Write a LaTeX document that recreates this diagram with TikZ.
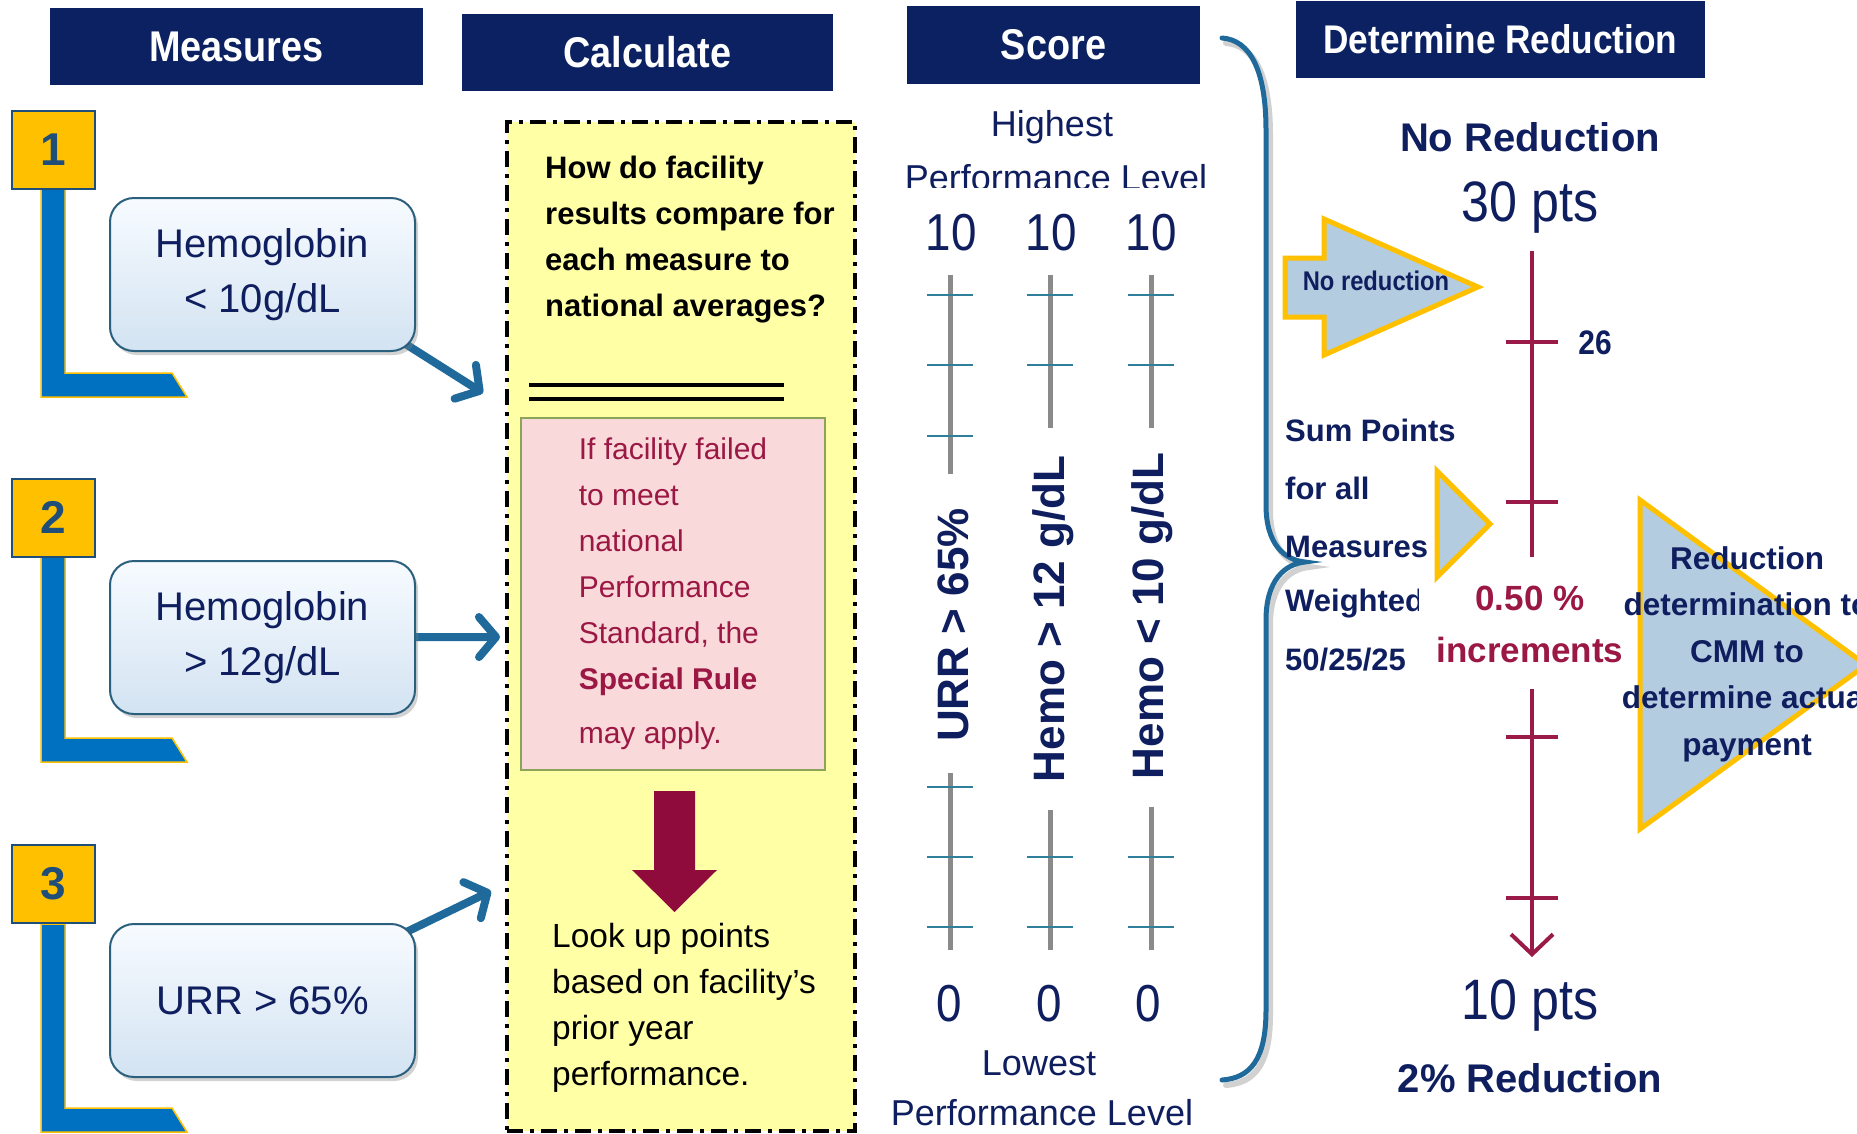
\documentclass[tikz,border=0pt]{standalone}
\usepackage{fontspec}
\setmainfont{Liberation Sans}
\newfontfamily\narrowfont[FakeStretch=0.88]{Liberation Sans}
\usepackage{tikz}
\usetikzlibrary{arrows.meta,shadows,backgrounds,calc}

\definecolor{navy}{HTML}{0B2161}
\definecolor{ink}{HTML}{0F1E5E}
\definecolor{gold}{HTML}{FFC000}
\definecolor{lblue}{HTML}{0070C0}
\definecolor{steel}{HTML}{1F4E79}
\definecolor{arrowblue}{HTML}{1F6A9A}
\definecolor{boxedge}{HTML}{2A5F7E}
\definecolor{boxtop}{HTML}{F7FBFF}
\definecolor{boxbot}{HTML}{D3E3F2}
\definecolor{padyellow}{HTML}{FFFFA6}
\definecolor{rosefill}{HTML}{F9D9DA}
\definecolor{olive}{HTML}{8CA35A}
\definecolor{wine}{HTML}{8E0B3C}
\definecolor{winetext}{HTML}{9B1744}
\definecolor{bargray}{HTML}{8A8A8A}
\definecolor{tickteal}{HTML}{2F7E9C}
\definecolor{paleblue}{HTML}{B3CCE0}
\definecolor{redrule}{HTML}{9B1B48}

\newcommand{\setfs}[2]{\fontsize{#1}{#2}\selectfont}

\tikzset{
  header/.style={fill=navy, text=white, inner sep=0pt, font=\narrowfont\bfseries\setfs{43}{50}},
  numbox/.style={fill=gold, draw=steel, line width=2pt, minimum width=83pt, minimum height=78pt,
    inner sep=0pt, text=steel, font=\bfseries\setfs{46}{50}},
  measure/.style={draw=boxedge, line width=2pt, rounded corners=24pt, top color=boxtop, bottom color=boxbot,
    minimum width=305pt, minimum height=153pt, inner sep=0pt, align=center, text=ink, font=\setfs{40}{55},
    drop shadow={shadow xshift=3pt, shadow yshift=-4pt, opacity=.35}},
  flow/.style={draw=arrowblue, line width=8pt, line cap=round, -{Straight Barb[length=17pt,width=40pt,round]}},
  calcbox/.style={fill=padyellow, draw=black, line width=3.5pt, dash pattern=on 16pt off 7pt on 4pt off 7pt},
  scalebar/.style={draw=bargray, line width=5pt},
  scaletick/.style={draw=tickteal, line width=2.5pt},
  scorenum/.style={text=ink, inner sep=0pt, font=\narrowfont\setfs{52}{56}},
  scorelbl/.style={text=ink, inner sep=0pt, font=\setfs{36}{40}},
  measlbl/.style={text=ink, inner sep=0pt, rotate=90, font=\bfseries\setfs{44}{48}},
  redline/.style={draw=redrule, line width=4pt},
  pointer/.style={fill=paleblue, draw=gold, line width=5pt, line join=miter},
}

\begin{document}
\begin{tikzpicture}[x=1pt, y=-1pt]
\useasboundingbox (0,0) rectangle (1857,1133);

% column headings
\node[header, minimum width=373pt, minimum height=77pt] (hmeas) at (236.5,46.5) {Measures};
\node[header, minimum width=371pt, minimum height=77pt] (hcalc) at (647.5,52.5) {Calculate};
\node[header, minimum width=293pt, minimum height=78pt] (hscore) at (1053.5,45) {Score};
\node[header, minimum width=409pt, minimum height=77pt, font=\narrowfont\bfseries\setfs{40}{48}] (hred) at (1500.5,39.5) {Determine Reduction};

% L-shaped markers under the numbers
\foreach \yt/\yb in {189/397, 557/762, 924/1132}
  \filldraw[fill=lblue, draw=gold, line width=1.5pt] (41,\yt) -- (65,\yt) -- (65,{\yb-24}) -- (172,{\yb-24}) -- (187,\yb) -- (41,\yb) -- cycle;

\node[numbox] (n1) at (53.5,150) {1};
\node[numbox] (n2) at (53.5,517.5) {2};
\node[numbox] (n3) at (53.5,884) {3};

% the three measures
\node[measure] (hbl) at (262.5,274.5) {Hemoglobin\\< 10g/dL};
\node[measure] (hbh) at (262.5,637.5) {Hemoglobin\\> 12g/dL};
\node[measure] (urr) at (262.5,1000.5) {URR > 65\%};

% calculation panel
\node[calcbox, minimum width=348pt, minimum height=1009pt] (calc) at (681,626.5) {};
\node[anchor=west, align=left, inner sep=0pt, font=\bfseries\setfs{31}{46}] (quest) at (545,240)
  {How do facility\\results compare for\\each measure to\\national averages?};
\draw[line width=4.5pt] (529,385) -- (784,385) (529,399) -- (784,399);
\node[fill=rosefill, draw=olive, line width=2pt, minimum width=304pt, minimum height=352pt, inner sep=0pt,
  align=left, text=winetext, font=\setfs{30}{46}] (rule) at (673,594)
  {If facility failed\\to meet\\national\\Performance\\Standard, the\\\textbf{Special Rule}\\[8pt]may apply.};
\fill[wine] (654,791) -- (695,791) -- (695,870) -- (717,870) -- (674.5,912) -- (632,870) -- (654,870) -- cycle;
\node[anchor=west, align=left, inner sep=0pt, font=\setfs{33.5}{46}] (lookup) at (552,1008)
  {Look up points\\based on facility's\\prior year\\performance.};

\coordinate (in1) at (483,393);
\coordinate (in2) at (500,637);
\coordinate (in3) at (491,891);
\begin{scope}[on background layer]
  \fill[white] (0,0) rectangle (1857,1133);
  \draw[flow] ($(hbl.south east)+(-20,-14)$) -- (in1);
  \draw[flow] (hbh.center) -- (in2);
  \draw[flow] ($(urr.north east)+(-20,14)$) -- (in3);
\end{scope}

% score scales
\node[scorelbl] (hi) at (1052,127) {Highest};
\begin{scope}
  \clip (880,150) rectangle (1230,187);
  \node[scorelbl, anchor=base] (hilvl) at (1056,190) {Performance Level};
\end{scope}
\foreach \i/\x in {1/951, 2/1051, 3/1151}
  \node[scorenum] (top\i) at (\x,233) {10};
\foreach \x/\ya/\yb/\tk in {950/275/474/{295,365,436}, 1050/275/428/{295,365}, 1151/275/428/{295,365}}{
  \draw[scalebar] (\x,\ya) -- (\x,\yb);
  \foreach \t in \tk \draw[scaletick] ({\x-23},\t) -- ({\x+23},\t);
}
\foreach \x/\ya/\tk in {950/773/{787,857,927}, 1050/810/{857,927}, 1151/807/{857,927}}{
  \draw[scalebar] (\x,\ya) -- (\x,950);
  \foreach \t in \tk \draw[scaletick] ({\x-23},\t) -- ({\x+23},\t);
}
\node[measlbl] (lurr) at (953,625) {URR > 65\%};
\node[measlbl] (lhi) at (1053,619) {Hemo > 12 g/dL};
\node[measlbl] (llo) at (1152,616) {Hemo < 10 g/dL};
\foreach \i/\x in {1/949, 2/1049, 3/1148}
  \node[scorenum] (low\i) at (\x,1004) {0};
\node[scorelbl] (lo) at (1039,1063) {Lowest};
\node[scorelbl] (lolvl) at (1042,1113) {Performance Level};

% brace
\begin{scope}[shift={(4,5)}]
  \draw[black!18, line width=6pt, line cap=round]
    (1222,38) .. controls (1250,40) and (1266,70) .. (1266,130) -- (1266,505)
    .. controls (1266,545) and (1285,560) .. (1305,562) .. controls (1285,564) and (1266,580) .. (1266,620)
    -- (1266,1010) .. controls (1266,1060) and (1250,1078) .. (1222,1080);
\end{scope}
\draw[arrowblue, line width=5pt, line cap=round]
  (1222,38) .. controls (1250,40) and (1266,70) .. (1266,130) -- (1266,505)
  .. controls (1266,545) and (1285,560) .. (1305,562) .. controls (1285,564) and (1266,580) .. (1266,620)
  -- (1266,1010) .. controls (1266,1060) and (1250,1078) .. (1222,1080);

% reduction scale
\node[text=ink, inner sep=0pt, font=\bfseries\setfs{40}{44}] (nored) at (1530,137) {No Reduction};
\node[text=ink, inner sep=0pt, font=\narrowfont\setfs{57}{60}] (pts30) at (1530,208) {30 pts};
\coordinate (r0) at (1532,251);
\coordinate (r1) at (1532,557);
\coordinate (r2) at (1532,689);
\coordinate (r3) at (1532,957);
\draw[redline] (r0) -- (r1);
\draw[redline, -{Straight Barb[length=20pt,width=42pt]}] (r2) -- (r3);
\foreach \t in {342,502,737,898}
  \draw[redline] (1506,\t) -- (1558,\t);
\node[text=ink, inner sep=0pt, font=\narrowfont\bfseries\setfs{34}{38}] (p26) at (1595,343) {26};
\node[text=winetext, inner sep=0pt, font=\bfseries\setfs{35}{40}] (pct) at (1530,598) {0.50 \%};
\node[text=winetext, inner sep=0pt, font=\bfseries\setfs{35}{40}] (incr) at (1530,650) {increments};
\node[text=ink, inner sep=0pt, font=\narrowfont\setfs{57}{60}] (pts10) at (1530,1005) {10 pts};
\node[text=ink, inner sep=0pt, font=\bfseries\setfs{40}{44}] (twored) at (1530,1078) {2\% Reduction};

% pointers
\filldraw[pointer] (1285,258) -- (1324,258) -- (1324,219) -- (1478,287) -- (1324,355) -- (1324,317) -- (1285,317) -- cycle;
\node[text=ink, inner sep=0pt, font=\narrowfont\bfseries\setfs{27}{30}] (noredlbl) at (1376,281) {No reduction};
\filldraw[pointer] (1437,471) -- (1490,524) -- (1437,577) -- cycle;
\filldraw[pointer] (1640,500) -- (1866,665) -- (1640,829) -- cycle;
\node[text=ink, inner sep=0pt, align=center, font=\bfseries\setfs{31.5}{46.5}] (detlbl) at (1747,654)
  {Reduction\\determination to\\CMM to\\determine actual\\payment};

\node[anchor=west, align=left, text=ink, inner sep=0pt, font=\bfseries\setfs{31}{58}] (sum) at (1285,488)
  {Sum Points\\for all\\Measures};
\begin{scope}
  \clip (1280,570) rectangle (1418,640);
  \node[anchor=west, text=ink, inner sep=0pt, font=\bfseries\setfs{31}{36}] (wtd) at (1285,604) {Weighted};
\end{scope}
\node[anchor=west, text=ink, inner sep=0pt, font=\bfseries\setfs{31}{36}] (split) at (1285,660) {50/25/25};
\end{tikzpicture}
\end{document}
